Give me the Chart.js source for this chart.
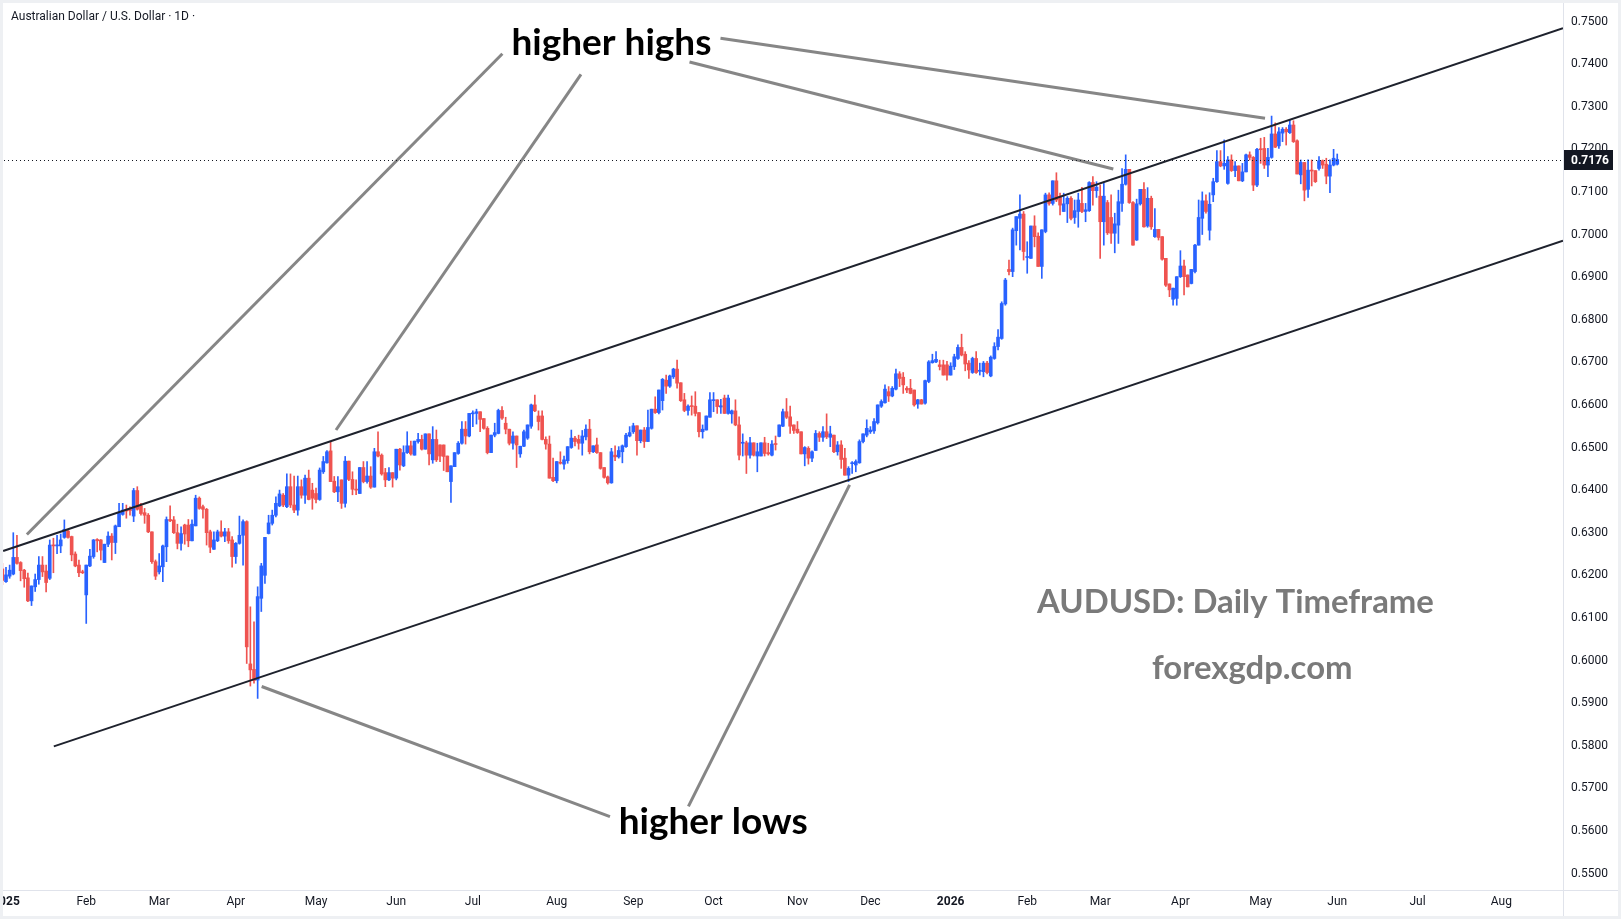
<!DOCTYPE html>
<html>
<head>
<meta charset="utf-8">
<script src="https://cdn.jsdelivr.net/npm/chart.js@4.4.1/dist/chart.umd.min.js"></script>
<style>
  html, body { margin: 0; padding: 0; background: #ffffff; }
  #wrap { width: 1621px; height: 919px; }
</style>
</head>
<body>
<div id="wrap"><canvas id="chart" width="1621" height="919"></canvas></div>
<script>
// AUDUSD daily candles, prices in pips (x 0.0001), first bar = 1 Jan 2025
const opens = [6215,
  6185,6198,6203,6242,6230,6212,6194,6140,6173,6190,
  6224,6210,6193,6271,6269,6269,6289,6304,6291,6250,
  6224,6208,6154,6222,6244,6284,6283,6230,6273,6292,
  6277,6314,6343,6355,6355,6339,6399,6363,6347,6341,
  6302,6232,6208,6220,6267,6331,6330,6300,6275,6318,
  6318,6281,6316,6381,6361,6355,6302,6261,6281,6302,
  6292,6302,6283,6244,6275,6294,6326,5992,5979,5954,
  6146,6200,6298,6322,6341,6363,6388,6361,6408,6365,
  6353,6408,6388,6428,6400,6392,6378,6443,6464,6492,
  6421,6396,6424,6369,6468,6425,6402,6392,6453,6420,
  6433,6407,6490,6482,6441,6424,6441,6428,6496,6457,
  6488,6504,6482,6514,6519,6496,6532,6471,6519,6506,
  6506,6480,6420,6455,6486,6510,6543,6527,6579,6580,
  6584,6568,6545,6488,6529,6533,6587,6557,6543,6510,
  6527,6485,6503,6522,6550,6600,6574,6574,6519,6508,
  6430,6422,6465,6461,6469,6500,6522,6519,6510,6525,
  6543,6490,6506,6488,6453,6431,6417,6482,6478,6490,
  6502,6527,6537,6551,6516,6541,6514,6545,6590,6582,
  6610,6658,6644,6666,6684,6652,6612,6587,6597,6597,
  6582,6537,6541,6571,6610,6612,6595,6616,6580,6579,
  6586,6553,6510,6511,6482,6511,6480,6480,6511,6488,
  6482,6509,6526,6550,6584,6572,6553,6543,6537,6485,
  6498,6475,6493,6533,6524,6537,6524,6529,6490,6506,
  6475,6435,6462,6459,6464,6514,6529,6537,6539,6558,
  6597,6605,6631,6621,6637,6673,6665,6639,6639,6635,
  6602,6612,6604,6655,6699,6701,6694,6694,6694,6670,
  6690,6709,6735,6719,6698,6676,6709,6679,6678,6698,
  6668,6709,6737,6756,6837,6918,6913,7009,7038,7048,
  6946,6944,7020,6996,6925,7007,7093,7073,7126,7089,
  7054,7072,7085,7040,7054,7073,7054,7056,7122,7103,
  7090,7030,7075,7040,7003,7022,7073,7118,7153,7075,
  6987,7072,7106,7020,7085,6995,7012,6995,6944,6884,
  6848,6850,6901,6926,6905,6885,6913,6975,7038,7079,
  7010,7093,7124,7171,7161,7120,7175,7150,7161,7126,
  7147,7187,7181,7116,7200,7202,7163,7181,7236,7208,
  7238,7247,7239,7257,7220,7140,7169,7106,7151,7150,
  7155,7173,7165,7137,7163,7165];

const highs = [6228,
  6219,6224,6300,6294,6232,6214,6205,6175,6203,6244,
  6244,6224,6283,6287,6294,6297,6330,6306,6292,6255,
  6236,6212,6224,6261,6284,6286,6284,6273,6302,6298,
  6318,6369,6369,6365,6361,6404,6408,6369,6357,6345,
  6302,6236,6251,6271,6337,6363,6338,6320,6314,6320,
  6331,6330,6388,6384,6365,6357,6306,6302,6306,6328,
  6310,6310,6291,6277,6339,6330,6328,6126,6091,6173,
  6228,6289,6341,6353,6384,6400,6392,6438,6438,6433,
  6433,6424,6435,6447,6416,6405,6452,6479,6493,6514,
  6432,6432,6424,6479,6468,6443,6424,6453,6467,6467,
  6455,6498,6537,6485,6451,6453,6441,6496,6498,6504,
  6537,6515,6515,6533,6529,6532,6532,6549,6541,6506,
  6506,6480,6457,6488,6514,6561,6561,6580,6586,6590,
  6584,6568,6549,6529,6557,6590,6596,6571,6543,6537,
  6527,6503,6541,6553,6602,6623,6586,6586,6525,6527,
  6475,6467,6490,6480,6502,6541,6526,6529,6540,6553,
  6566,6504,6522,6488,6453,6433,6498,6504,6502,6506,
  6533,6549,6557,6551,6541,6547,6588,6590,6619,6635,
  6662,6670,6670,6686,6705,6652,6627,6600,6621,6631,
  6582,6553,6574,6629,6629,6612,6613,6623,6623,6588,
  6612,6572,6532,6515,6524,6511,6510,6511,6524,6510,
  6516,6527,6553,6590,6615,6597,6553,6561,6537,6502,
  6502,6492,6540,6537,6549,6579,6550,6529,6514,6516,
  6498,6455,6467,6471,6518,6532,6565,6549,6568,6600,
  6612,6647,6643,6643,6684,6678,6676,6643,6660,6635,
  6613,6613,6658,6704,6719,6725,6705,6705,6702,6699,
  6719,6741,6766,6725,6704,6712,6725,6698,6702,6702,
  6715,6746,6777,6842,6897,6940,7015,7042,7093,7054,
  6983,7020,7044,7004,7011,7097,7098,7126,7145,7097,
  7097,7089,7089,7081,7097,7111,7073,7124,7136,7124,
  7116,7120,7080,7093,7050,7104,7155,7187,7153,7077,
  7083,7106,7122,7110,7090,7061,7012,6995,6944,6884,
  6874,6901,6962,6940,6905,6918,6977,7081,7100,7093,
  7098,7132,7197,7197,7222,7183,7187,7171,7161,7167,
  7189,7194,7183,7202,7226,7228,7202,7278,7262,7251,
  7251,7251,7270,7267,7222,7175,7169,7175,7175,7150,
  7183,7175,7179,7175,7200,7189];

const lows = [6178,
  6183,6193,6201,6226,6187,6172,6138,6129,6162,6179,
  6197,6161,6190,6206,6251,6253,6287,6287,6234,6220,
  6197,6204,6087,6220,6240,6255,6236,6230,6267,6236,
  6251,6314,6341,6334,6341,6326,6353,6341,6322,6300,
  6228,6190,6203,6185,6232,6326,6298,6262,6259,6273,
  6267,6281,6316,6355,6334,6271,6253,6261,6279,6290,
  6279,6275,6219,6228,6273,6224,5993,5940,5947,5911,
  6115,6181,6297,6318,6337,6361,6361,6359,6359,6347,
  6341,6381,6369,6377,6355,6370,6376,6439,6463,6420,
  6394,6373,6357,6360,6422,6389,6389,6392,6417,6416,
  6404,6407,6478,6435,6408,6422,6407,6424,6447,6455,
  6486,6482,6482,6510,6494,6496,6459,6463,6467,6467,
  6446,6443,6371,6455,6484,6508,6508,6525,6549,6555,
  6537,6543,6485,6488,6525,6532,6566,6532,6506,6496,
  6453,6477,6502,6519,6545,6584,6541,6518,6496,6428,
  6420,6417,6461,6449,6463,6498,6504,6496,6482,6518,
  6485,6488,6486,6449,6428,6414,6416,6469,6475,6464,
  6500,6525,6533,6482,6511,6500,6514,6543,6580,6579,
  6588,6627,6641,6662,6639,6608,6584,6576,6576,6574,
  6525,6522,6541,6571,6584,6580,6580,6580,6578,6557,
  6551,6471,6480,6439,6475,6480,6443,6480,6480,6482,
  6480,6494,6525,6549,6568,6533,6533,6533,6485,6457,
  6461,6467,6493,6514,6514,6521,6502,6488,6482,6451,
  6435,6420,6439,6443,6463,6511,6525,6533,6533,6555,
  6594,6604,6608,6619,6635,6643,6627,6629,6626,6597,
  6592,6602,6602,6652,6698,6699,6682,6670,6658,6670,
  6683,6707,6715,6680,6662,6674,6674,6670,6666,6673,
  6666,6707,6729,6754,6834,6905,6901,6975,6964,6940,
  6909,6944,6971,6925,6897,7004,7069,7069,7077,7046,
  7054,7028,7034,7026,7017,7051,7030,7054,7069,7087,
  6944,6975,7000,6979,6957,6979,7054,7116,7073,6975,
  6986,7069,7017,7017,7012,6993,6987,6940,6878,6854,
  6834,6834,6899,6858,6877,6884,6910,6975,7000,7050,
  6987,7077,7122,7159,7153,7118,7148,7136,7126,7124,
  7147,7175,7103,7112,7167,7155,7136,7179,7204,7202,
  7218,7210,7237,7216,7142,7119,7079,7087,7114,7122,
  7151,7155,7119,7098,7161,7163];

const closes = [6188,
  6201,6212,6242,6228,6211,6192,6140,6175,6190,6224,
  6208,6183,6271,6269,6271,6283,6308,6289,6248,6222,
  6206,6206,6224,6245,6283,6281,6259,6273,6292,6277,
  6316,6347,6353,6351,6352,6399,6355,6345,6341,6302,
  6232,6198,6222,6269,6331,6328,6300,6275,6298,6297,
  6281,6320,6381,6357,6355,6300,6266,6283,6302,6292,
  6302,6281,6244,6275,6294,6326,6032,5978,5953,6150,
  6222,6289,6323,6341,6369,6391,6365,6408,6365,6353,
  6408,6388,6428,6378,6381,6378,6447,6467,6490,6420,
  6396,6408,6369,6468,6425,6402,6400,6453,6420,6433,
  6407,6490,6480,6438,6424,6441,6428,6496,6459,6488,
  6504,6485,6515,6519,6496,6532,6485,6519,6471,6480,
  6479,6443,6457,6488,6510,6543,6527,6580,6581,6584,
  6566,6545,6488,6529,6535,6587,6569,6543,6510,6527,
  6506,6503,6537,6553,6600,6586,6561,6519,6508,6428,
  6422,6467,6463,6471,6502,6522,6514,6510,6527,6543,
  6490,6504,6488,6451,6430,6417,6490,6478,6493,6504,
  6529,6535,6551,6516,6541,6514,6547,6590,6582,6635,
  6660,6644,6668,6684,6651,6610,6587,6597,6596,6580,
  6537,6543,6574,6612,6612,6596,6598,6580,6616,6586,
  6553,6482,6512,6482,6511,6482,6490,6511,6486,6485,
  6508,6507,6553,6584,6571,6550,6540,6535,6485,6500,
  6475,6490,6533,6524,6537,6525,6532,6490,6506,6472,
  6435,6451,6463,6467,6514,6532,6545,6541,6561,6600,
  6608,6637,6621,6639,6673,6662,6647,6635,6627,6600,
  6612,6602,6657,6701,6704,6707,6690,6670,6670,6691,
  6713,6735,6717,6696,6682,6709,6676,6680,6698,6676,
  6712,6737,6759,6838,6893,6913,7011,7042,7048,6960,
  6948,7020,6995,6925,7011,7093,7073,7126,7081,7069,
  7072,7085,7038,7056,7081,7054,7058,7122,7103,7111,
  7030,7090,7004,7003,7025,7077,7118,7153,7075,6975,
  7072,7106,7018,7085,7018,7012,6993,6942,6881,6870,
  6874,6901,6926,6901,6877,6918,6975,7040,7079,7054,
  7071,7124,7171,7161,7167,7175,7150,7161,7126,7147,
  7187,7181,7116,7200,7199,7163,7181,7236,7205,7241,
  7247,7241,7257,7218,7142,7169,7104,7151,7149,7124,
  7173,7163,7137,7163,7179,7176];

// time axis: bar index of each month start and its label
const monthTicks = [1, 23, 43, 64, 86, 108, 129, 152, 173, 195, 218, 238, 260, 281, 301, 323, 345, 366, 388, 411];
const monthLabels = ["2025", "Feb", "Mar", "Apr", "May", "Jun", "Jul", "Aug", "Sep", "Oct", "Nov", "Dec",
  "2026", "Feb", "Mar", "Apr", "May", "Jun", "Jul", "Aug"];
const priceTicks = [0.55, 0.56, 0.57, 0.58, 0.59, 0.60, 0.61, 0.62, 0.63, 0.64, 0.65,
  0.66, 0.67, 0.68, 0.69, 0.70, 0.71, 0.72, 0.73, 0.74, 0.75];

// drawn trend lines, each as [[barIndex, price], [barIndex, price]]
const upperChannel = [[0.21, 0.6257], [427.9, 0.7484]];
const lowerChannel = [[14.11, 0.57984], [427.9, 0.69854]];
const calloutLines = [
  [[137.1, 0.74242], [6.73, 0.62958]],
  [[158.65, 0.73758], [91.48, 0.65411]],
  [[188.4, 0.74049], [304.6, 0.71538]],
  [[196.9, 0.74606], [346.2, 0.72728]],
  [[166.6, 0.56333], [71.1, 0.59390]],
  [[188.1, 0.56575], [232.3, 0.64122]],
];
const calloutTexts = ["higher highs", "higher lows"];
const calloutAnchors = [[167.0, 0.74486], [194.9, 0.56209]];
const watermarkTexts = ["AUDUSD: Daily Timeframe", "forexgdp.com"];
const watermarkAnchors = [[338.1, 0.61357], [342.7, 0.59803]];

const UP = "#2962ff";
const DOWN = "#ef5350";
const INK = "#131722";
const FONT = "Roboto, 'Noto Sans', sans-serif";

const count = closes.length;
if ([opens, highs, lows].some((a) => a.length !== count)) {
  throw new Error("OHLC arrays differ in length");
}

const toPrice = (p) => p / 10000;
const bodies = [];
const wicks = [];
const candleColors = [];
for (let i = 0; i < count; i++) {
  const o = toPrice(opens[i]);
  const c = toPrice(closes[i]);
  const h = Math.max(toPrice(highs[i]), o, c);
  const l = Math.min(toPrice(lows[i]), o, c);
  bodies.push({ x: i, y: [o, c] });
  wicks.push({ x: i, y: [l, h] });
  candleColors.push(c >= o ? UP : DOWN);
}
const lastClose = toPrice(closes[count - 1]);

const segment = (pts, color, width) => ({
  type: "line",
  data: pts.map(([x, y]) => ({ x, y })),
  borderColor: color,
  borderWidth: width,
  pointRadius: 0,
  fill: false,
  tension: 0,
  order: 0,
});

function fitSize(ctx, text, weight, family, targetWidth) {
  ctx.font = `${weight} 100px ${family}`;
  return (100 * targetWidth) / ctx.measureText(text).width;
}

const overlay = {
  id: "overlay",
  beforeDraw(chart) {
    const ctx = chart.ctx;
    ctx.save();
    ctx.fillStyle = "#ffffff";
    ctx.fillRect(0, 0, chart.width, chart.height);
    ctx.restore();
  },
  afterDatasetsDraw(chart) {
    const { ctx, chartArea, scales } = chart;
    const xs = scales.x;
    const ys = scales.y;
    ctx.save();

    // last price dotted line
    const py = Math.round(ys.getPixelForValue(lastClose)) + 0.5;
    ctx.strokeStyle = INK;
    ctx.lineWidth = 1;
    ctx.setLineDash([1, 3]);
    ctx.beginPath();
    ctx.moveTo(chartArea.left, py);
    ctx.lineTo(chartArea.right, py);
    ctx.stroke();
    ctx.setLineDash([]);

    ctx.textAlign = "center";
    ctx.textBaseline = "middle";
    const lato = "Lato, 'Open Sans', sans-serif";
    let size = fitSize(ctx, calloutTexts[0], "bold", lato, 200);
    ctx.font = `bold ${size}px ${lato}`;
    ctx.fillStyle = "#000000";
    calloutTexts.forEach((t, k) => {
      const [bx, pr] = calloutAnchors[k];
      ctx.fillText(t, xs.getPixelForValue(bx), ys.getPixelForValue(pr));
    });

    size = fitSize(ctx, watermarkTexts[0], "bold", lato, 397);
    ctx.font = `bold ${size}px ${lato}`;
    ctx.fillStyle = "#7a7a7a";
    watermarkTexts.forEach((t, k) => {
      const [bx, pr] = watermarkAnchors[k];
      ctx.fillText(t, xs.getPixelForValue(bx), ys.getPixelForValue(pr));
    });
    ctx.restore();
  },
  afterDraw(chart) {
    const { ctx, chartArea, scales, width, height } = chart;
    ctx.save();

    // pane separators
    ctx.strokeStyle = "#e0e3eb";
    ctx.lineWidth = 1;
    ctx.beginPath();
    ctx.moveTo(chartArea.right + 0.5, 0);
    ctx.lineTo(chartArea.right + 0.5, height);
    ctx.moveTo(0, chartArea.bottom + 0.5);
    ctx.lineTo(width, chartArea.bottom + 0.5);
    ctx.stroke();

    // last price tag on the price scale
    const py = scales.y.getPixelForValue(lastClose);
    ctx.fillStyle = INK;
    ctx.fillRect(chartArea.right + 1, Math.round(py) - 10, 49, 20);
    ctx.fillStyle = "#ffffff";
    ctx.font = `bold 12px ${FONT}`;
    ctx.textAlign = "left";
    ctx.textBaseline = "middle";
    ctx.fillText(lastClose.toFixed(4), chartArea.right + 8, Math.round(py) + 0.5);

    // symbol title
    ctx.fillStyle = INK;
    ctx.font = `12px ${FONT}`;
    ctx.fillText("Australian Dollar / U.S. Dollar \u00b7 1D \u00b7", 11, 17);

    // outer frame
    ctx.fillStyle = "#eef0f3";
    ctx.fillRect(0, 0, width, 3);
    ctx.fillRect(0, 0, 3, height);
    ctx.fillRect(width - 3, 0, 3, height);
    ctx.fillRect(0, height - 3, width, 3);
    ctx.restore();
  },
};

new Chart(document.getElementById("chart"), {
  type: "bar",
  data: {
    datasets: [
      ...[upperChannel, lowerChannel].map((l) => segment(l, "#1e222d", 2)),
      ...calloutLines.map((l) => segment(l, "#868686", 3)),
      {
        label: "bodies",
        data: bodies,
        backgroundColor: candleColors,
        barThickness: 3,
        minBarLength: 1,
        grouped: false,
        order: 1,
      },
      {
        label: "wicks",
        data: wicks,
        backgroundColor: candleColors,
        barThickness: 1,
        grouped: false,
        order: 2,
      },
    ],
  },
  options: {
    responsive: false,
    animation: false,
    devicePixelRatio: 1,
    events: [],
    layout: { padding: { top: 3, left: 0, right: 0, bottom: 0 } },
    plugins: { legend: { display: false }, tooltip: { enabled: false } },
    scales: {
      x: {
        type: "linear",
        min: -0.644,
        max: 427.9,
        offset: false,
        grid: { display: false, drawTicks: false },
        border: { display: true, color: "#e0e3eb" },
        afterBuildTicks: (axis) => {
          axis.ticks = monthTicks.map((v) => ({ value: v }));
        },
        afterFit: (axis) => {
          axis.height = 29;
          axis.paddingLeft = 0;
          axis.paddingRight = 0;
        },
        ticks: {
          autoSkip: false,
          maxRotation: 0,
          padding: 5,
          color: INK,
          font: (ctx) => ({
            family: FONT,
            size: 12,
            weight: /^\d{4}$/.test(monthLabels[ctx.index]) ? "bold" : "normal",
          }),
          callback: (v, i) => monthLabels[i],
        },
      },
      y: {
        position: "right",
        min: 0.546127,
        max: 0.754343,
        grid: { display: false, drawTicks: false },
        border: { display: true, color: "#e0e3eb" },
        afterBuildTicks: (axis) => {
          axis.ticks = priceTicks.map((v) => ({ value: v }));
        },
        afterFit: (axis) => {
          axis.width = 58;
          axis.paddingTop = 0;
          axis.paddingBottom = 0;
        },
        ticks: {
          padding: 8,
          color: INK,
          font: { family: FONT, size: 12 },
          callback: (v) => Number(v).toFixed(4),
        },
      },
    },
  },
  plugins: [overlay],
});
</script>
</body>
</html>
